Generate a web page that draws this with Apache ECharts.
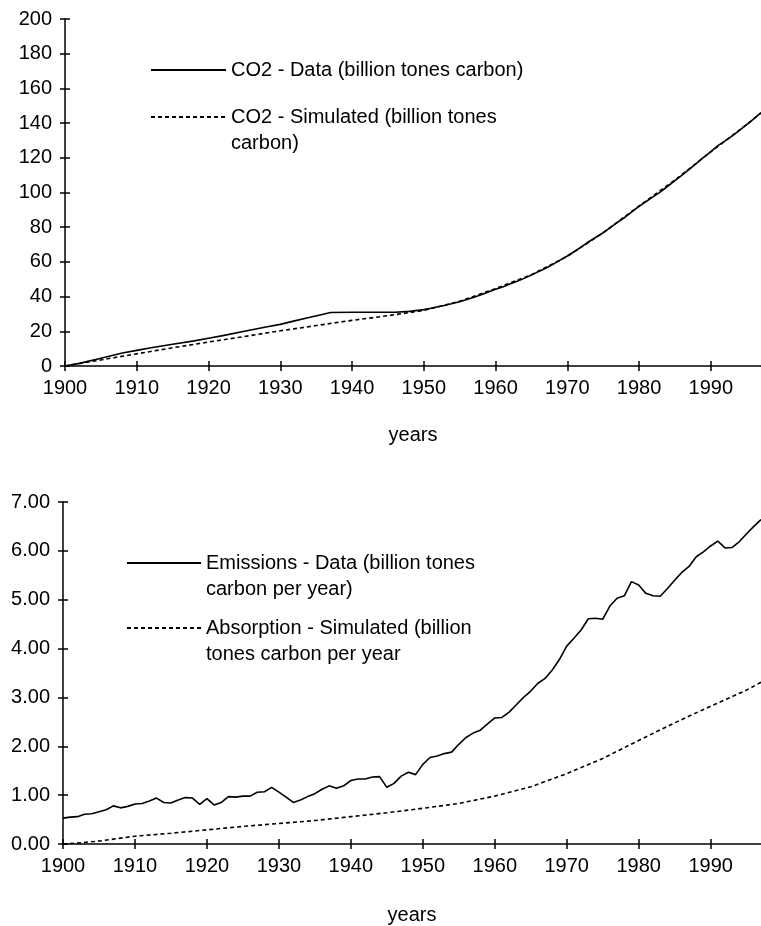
<!DOCTYPE html>
<html>
<head>
<meta charset="utf-8">
<script src="https://cdn.jsdelivr.net/npm/echarts@6/dist/echarts.min.js"></script>
<style>
  html, body { margin: 0; padding: 0; background: #fff; }
  #chart { width: 761px; height: 926px; }
</style>
</head>
<body>
<div id="chart"></div>
<script>
// ---- Upper panel: accumulated CO2 (billion tones carbon) ----
const co2DataYears = [1900, 1902, 1905, 1908, 1910, 1912, 1915, 1918, 1920, 1922, 1925, 1928, 1930, 1932, 1934, 1936, 1937, 1940, 1943, 1946, 1948,
  1950, 1951, 1952, 1953, 1954, 1955, 1956, 1957, 1958, 1959, 1960, 1961, 1962, 1963, 1964, 1965, 1966, 1967, 1968, 1969,
  1970, 1971, 1972, 1973, 1974, 1975, 1976, 1977, 1978, 1979, 1980, 1981, 1982, 1983, 1984, 1985, 1986, 1987, 1988, 1989,
  1990, 1991, 1992, 1993, 1994, 1995, 1996, 1997];
const co2DataValues = [0, 1.5, 4.5, 7.5, 9, 10.5, 12.5, 14.5, 16, 17.5, 20, 22.5, 24, 26, 28, 29.8, 30.8, 31, 31, 31, 31.5,
  32.5, 33.3, 34.2, 35.0, 36.0, 37.0, 38.3, 39.6, 41.0, 42.6, 44.2, 45.6, 47.2, 48.8, 50.5, 52.4, 54.4, 56.3, 58.6, 61.0,
  63.4, 66.0, 68.8, 71.6, 74.2, 76.8, 79.8, 82.8, 85.6, 88.9, 92.0, 94.8, 97.6, 100.4, 103.6, 106.8, 110.0, 113.3, 116.8, 120.2,
  123.6, 127.0, 129.8, 132.6, 135.8, 139.1, 142.5, 146.0];
const co2SimYears = [1900, 1905, 1910, 1915, 1920, 1925, 1930, 1935, 1940, 1945, 1950, 1955, 1960, 1965, 1970, 1975, 1980, 1985, 1990, 1995, 1997];
const co2SimValues = [0, 3.5, 7, 10.5, 13.8, 17, 20.3, 23.3, 26.3, 29, 32, 37.3, 44.6, 52.6, 63.2, 76.8, 92.2, 107.2, 123.4, 139.2, 145.8];

// ---- Lower panel: yearly flows (billion tones carbon per year) ----
const flowYears = [];
for (let y = 1900; y <= 1997; y++) flowYears.push(y);
const emissionValues = [
  0.53, 0.55, 0.56, 0.61, 0.62, 0.66, 0.70, 0.78, 0.74, 0.77,
  0.82, 0.83, 0.88, 0.94, 0.85, 0.84, 0.90, 0.95, 0.94, 0.81,
  0.93, 0.80, 0.85, 0.97, 0.96, 0.98, 0.98, 1.06, 1.07, 1.16,
  1.06, 0.96, 0.85, 0.90, 0.97, 1.03, 1.12, 1.19, 1.14, 1.19,
  1.30, 1.33, 1.33, 1.37, 1.38, 1.16, 1.24, 1.39, 1.47, 1.42,
  1.63, 1.77, 1.80, 1.85, 1.88, 2.04, 2.18, 2.27, 2.33, 2.46,
  2.58, 2.59, 2.70, 2.85, 3.00, 3.13, 3.29, 3.39, 3.56, 3.78,
  4.05, 4.21, 4.38, 4.61, 4.62, 4.60, 4.87, 5.03, 5.08, 5.37,
  5.30, 5.13, 5.08, 5.07, 5.23, 5.40, 5.56, 5.68, 5.88, 5.98,
  6.10, 6.20, 6.06, 6.07, 6.19, 6.35, 6.50, 6.64];
const absorptionYears = [1900, 1902, 1905, 1907, 1910, 1915, 1920, 1925, 1930, 1935, 1940, 1945, 1950, 1955, 1960, 1965, 1970, 1975, 1980, 1985, 1990, 1995, 1997];
const absorptionValues = [0.0, 0.02, 0.06, 0.10, 0.16, 0.22, 0.29, 0.36, 0.42, 0.48, 0.56, 0.64, 0.73, 0.83, 0.98, 1.17, 1.44, 1.75, 2.12, 2.48, 2.82, 3.15, 3.31];

// ---- Axis ticks ----
const yearTicks = [1900, 1910, 1920, 1930, 1940, 1950, 1960, 1970, 1980, 1990];
const co2Ticks = [0, 20, 40, 60, 80, 100, 120, 140, 160, 180, 200];
const flowTicks = [0, 1, 2, 3, 4, 5, 6, 7];

const names = {
  co2Data: 'CO2 - Data (billion tones carbon)',
  co2Sim: 'CO2 - Simulated (billion tones\ncarbon)',
  emis: 'Emissions - Data (billion tones\ncarbon per year)',
  absn: 'Absorption - Simulated (billion\ntones carbon per year'
};

const FONT = '"Liberation Sans", Arial, sans-serif';
const FS = 20;
const INK = '#000';
const TICK = { color: INK, width: 1.5 };

function pairs(xs, ys) { return xs.map((x, i) => [x, ys[i]]); }

// Each panel gets a second, label-less axis with inside ticks so the
// tick marks cross the axis line.
function xAxisPair(grid, nameGap) {
  const base = {
    type: 'value', gridIndex: grid, min: 1900, max: 1997, position: 'bottom',
    splitLine: { show: false }
  };
  return [
    Object.assign({}, base, {
      name: 'years', nameLocation: 'middle', nameGap: nameGap,
      nameTextStyle: { color: INK, fontFamily: FONT, fontSize: FS },
      axisLine: { onZero: false, lineStyle: { color: INK, width: 1.5 } },
      axisTick: { length: 5, lineStyle: TICK, customValues: yearTicks },
      axisLabel: { color: INK, fontFamily: FONT, fontSize: FS, margin: 12,
        formatter: v => String(v), customValues: yearTicks }
    }),
    Object.assign({}, base, {
      axisLine: { show: false, onZero: false },
      axisTick: { inside: true, length: 5, lineStyle: TICK, customValues: yearTicks },
      axisLabel: { show: false }
    })
  ];
}

function yAxisPair(grid, max, interval, ticks, fmt) {
  const base = { type: 'value', gridIndex: grid, min: 0, max: max, interval: interval,
    position: 'left', splitLine: { show: false } };
  return [
    Object.assign({}, base, {
      axisLine: { show: true, onZero: false, lineStyle: { color: INK, width: 1.5 } },
      axisTick: { show: true, length: 5, lineStyle: TICK, customValues: ticks },
      axisLabel: { color: INK, fontFamily: FONT, fontSize: FS, margin: 13, formatter: fmt, customValues: ticks }
    }),
    Object.assign({}, base, {
      axisLine: { show: false, onZero: false },
      axisTick: { show: true, inside: true, length: 5, lineStyle: TICK, customValues: ticks },
      axisLabel: { show: false }
    })
  ];
}

// One legend per entry; wrapped entries get an empty leading line so the
// sample line sits beside the first line of text.
function legendFor(name, left, top, lineW) {
  const wrapped = name.indexOf('\n') >= 0;
  return {
    data: [name], left: left, top: top, padding: 0, orient: 'vertical',
    itemWidth: lineW, itemHeight: 14, selectedMode: false,
    itemStyle: { color: 'rgba(0,0,0,0)', borderWidth: 0 },
    formatter: n => (wrapped ? '\n' + n : n),
    textStyle: { color: INK, fontFamily: FONT, fontSize: FS, lineHeight: 26 }
  };
}

function lineSeries(name, xi, yi, data, dashed) {
  return {
    name: name, type: 'line', xAxisIndex: xi, yAxisIndex: yi, data: data,
    symbol: 'none', silent: true, animation: false,
    lineStyle: { color: INK, width: 1.6, type: dashed ? [4, 3] : 'solid' },
    itemStyle: { color: INK }
  };
}

const chart = echarts.init(document.getElementById('chart'), null, { renderer: 'canvas' });
chart.setOption({
  backgroundColor: '#fff',
  animation: false,
  grid: [
    { left: 65, top: 19, right: 0, height: 347 },
    { left: 63, top: 502, right: 0, height: 342 }
  ],
  xAxis: [].concat(xAxisPair(0, 59), xAxisPair(1, 61)),
  yAxis: [].concat(
    yAxisPair(0, 200, 20, co2Ticks, v => String(v)),
    yAxisPair(1, 7, 1, flowTicks, v => v.toFixed(2))
  ),
  legend: [
    legendFor(names.co2Data, 150, 57, 75),
    legendFor(names.co2Sim, 150, 78, 75),
    legendFor(names.emis, 126, 524, 74),
    legendFor(names.absn, 126, 589, 74)
  ],
  series: [
    lineSeries(names.co2Data, 0, 0, pairs(co2DataYears, co2DataValues), false),
    lineSeries(names.co2Sim, 0, 0, pairs(co2SimYears, co2SimValues), true),
    lineSeries(names.emis, 2, 2, pairs(flowYears, emissionValues), false),
    lineSeries(names.absn, 2, 2, pairs(absorptionYears, absorptionValues), true)
  ]
});
</script>
</body>
</html>
